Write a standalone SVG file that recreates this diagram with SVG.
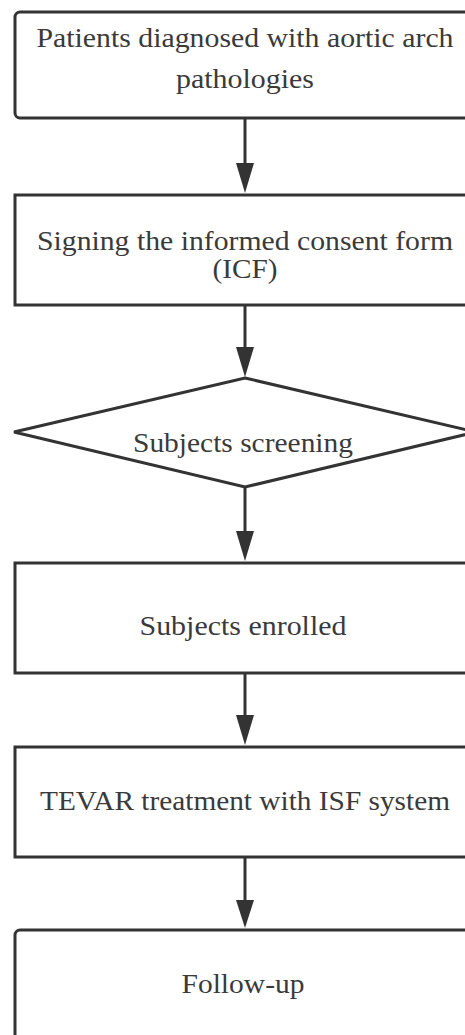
<svg xmlns="http://www.w3.org/2000/svg" width="465" height="1035" viewBox="0 0 465 1035">
<defs>
<style>
.box{fill:#fff;stroke:#333;stroke-width:3}
.edge{stroke:#333;stroke-width:3;fill:none}
.head{fill:#333}
.lbl{font-family:'Liberation Serif','Times New Roman',serif;font-size:28px;fill:#3a3a3a;text-anchor:middle}
</style>
</defs>
<rect width="465" height="1035" fill="#fff"/>
<g id="n1"><rect class="box" x="15" y="12" width="460" height="106" rx="5"/>
<text class="lbl" x="245" y="47" textLength="417" lengthAdjust="spacingAndGlyphs">Patients diagnosed with aortic arch</text>
<text class="lbl" x="245" y="88" textLength="138" lengthAdjust="spacingAndGlyphs">pathologies</text></g>
<g id="n2"><rect class="box" x="15" y="195" width="460" height="110"/>
<text class="lbl" x="245" y="250" textLength="416" lengthAdjust="spacingAndGlyphs">Signing the informed consent form</text>
<text class="lbl" x="245" y="278" textLength="65" lengthAdjust="spacingAndGlyphs">(ICF)</text></g>
<g id="n3"><polygon class="box" points="245,378 476,432 245,487 14,432"/>
<text class="lbl" x="243" y="452" textLength="220" lengthAdjust="spacingAndGlyphs">Subjects screening</text></g>
<g id="n4"><rect class="box" x="15" y="563" width="460" height="110"/>
<text class="lbl" x="243" y="635" textLength="207" lengthAdjust="spacingAndGlyphs">Subjects enrolled</text></g>
<g id="n5"><rect class="box" x="15" y="747" width="460" height="110"/>
<text class="lbl" x="245" y="810" textLength="410" lengthAdjust="spacingAndGlyphs">TEVAR treatment with ISF system</text></g>
<g id="n6"><rect class="box" x="15" y="930" width="460" height="130" rx="5"/>
<text class="lbl" x="243" y="993" textLength="123" lengthAdjust="spacingAndGlyphs">Follow-up</text></g>
<g id="edges">
<line class="edge" x1="245" y1="119" x2="245" y2="165"/><path class="head" d="M236,163 L254,163 L245,193 Z"/>
<line class="edge" x1="245" y1="306" x2="245" y2="349"/><path class="head" d="M236,347 L254,347 L245,377 Z"/>
<line class="edge" x1="245" y1="488" x2="245" y2="533"/><path class="head" d="M236,531 L254,531 L245,561 Z"/>
<line class="edge" x1="245" y1="674" x2="245" y2="717"/><path class="head" d="M236,715 L254,715 L245,745 Z"/>
<line class="edge" x1="245" y1="858" x2="245" y2="902"/><path class="head" d="M236,900 L254,900 L245,928 Z"/>
</g>
</svg>
